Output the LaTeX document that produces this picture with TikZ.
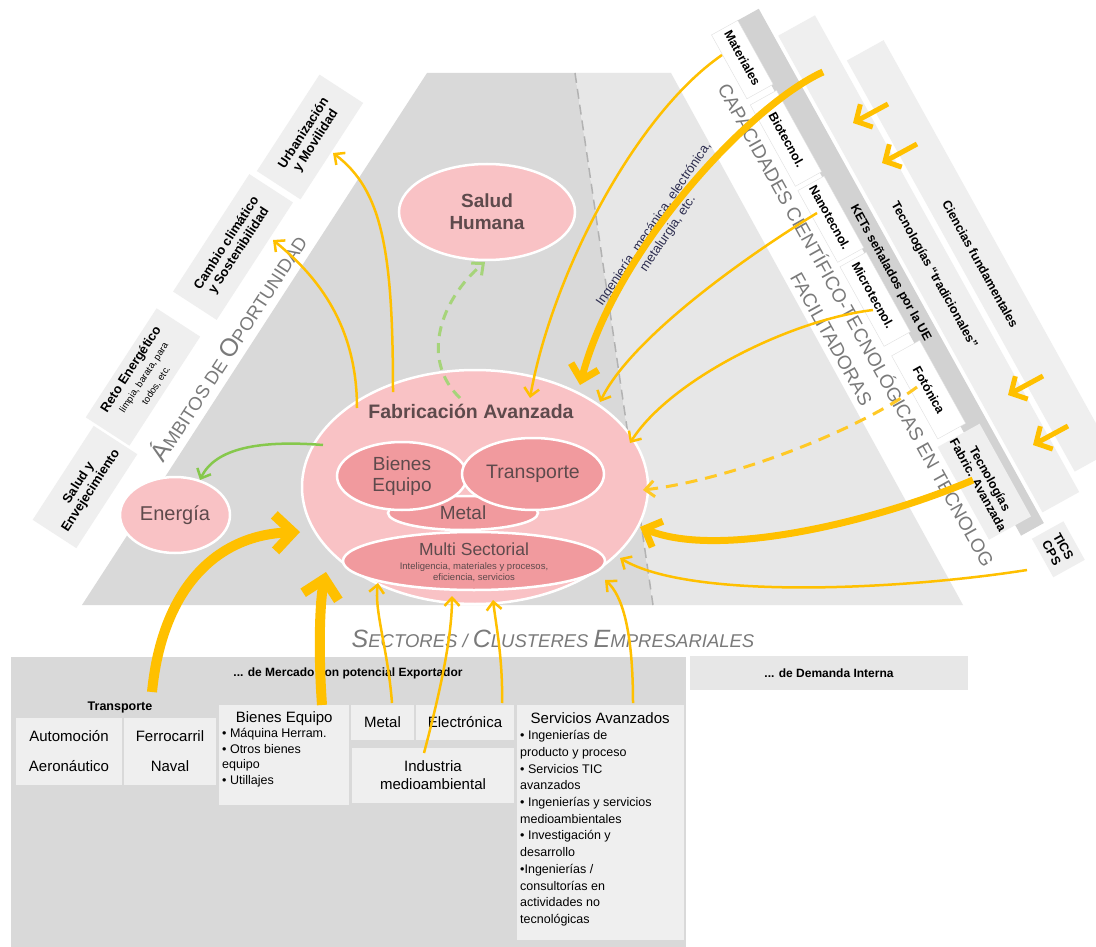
\documentclass[tikz,border=0pt]{standalone}
\usepackage{fontspec}
\setmainfont{Liberation Sans}
\usetikzlibrary{arrows.meta,shapes.geometric}
\definecolor{pinkL}{HTML}{F9C2C5}
\definecolor{pinkD}{HTML}{F19A9E}
\definecolor{txtD}{HTML}{5E4A4C}
\definecolor{yel}{HTML}{FFC000}
\definecolor{grn}{HTML}{86C84C}
\definecolor{grnL}{HTML}{A6D47A}
\definecolor{grayD}{HTML}{D9D9D9}
\definecolor{grayL}{HTML}{E7E7E7}
\definecolor{boxL}{HTML}{EFEFEF}
\definecolor{ketg}{HTML}{D2D2D2}
\definecolor{capt}{HTML}{7A7A7A}
\definecolor{ingt}{HTML}{2E2E50}
\newcommand{\fs}[2]{\fontsize{#1pt}{#2pt}\selectfont}
\newcommand{\Bg}[1]{{\fontsize{25pt}{28pt}\selectfont #1}}
\begin{document}
\begin{tikzpicture}[x=1pt,y=-1pt,
  ell/.style={ellipse, draw=white, line width=2.5pt, inner sep=0pt, text=txtD, align=center},
  lbox/.style={fill=boxL, rotate=57, align=center, font=\fs{13}{14.5}\bfseries, inner sep=2pt},
  rlab/.style={rotate=-61, align=center, font=\fs{12.5}{13.5}\bfseries, inner sep=1pt},
  sbox/.style={fill=boxL, inner sep=0pt},
  yarr/.style={draw=yel, line width=2.5pt, -{Straight Barb[length=8pt,width=15pt]}},
  ythick/.style={draw=yel, line width=7pt, -{Straight Barb[length=14pt,width=28pt]}},
  yhuge/.style={draw=yel, line width=10pt, -{Straight Barb[length=18pt,width=36pt]}},
  garr/.style={draw=grn, line width=2.5pt, -{Straight Barb[length=8pt,width=15pt]}},
  gdash/.style={draw=grnL, line width=3pt, dash pattern=on 10pt off 7pt, -{Straight Barb[length=9pt,width=16pt]}},
  ydash/.style={draw=yel!85!white, line width=3pt, dash pattern=on 12pt off 8pt, -{Straight Barb[length=9pt,width=16pt]}},
  chev/.style={draw=yel, line width=5pt, -{Straight Barb[length=12pt,width=26pt]}}
]
\useasboundingbox (0,0) rectangle (1096,947);
\fill[white] (0,0) rectangle (1096,947);

% ---------- background regions ----------
\fill[grayD] (427,73) -- (575,73) -- (653,605) -- (82,605) -- cycle;
\fill[grayL] (575,73) -- (671,73) -- (963,605) -- (653,605) -- cycle;
\draw[gray!60, line width=1.5pt, dash pattern=on 10pt off 6pt] (575,73) -- (653,605);

% ---------- right stripes ----------
\begin{scope}[shift={(680,73)}, rotate=-61]
  \fill[boxL] (70,-152) -- (540,-152) -- (540,-194) -- (70,-194) -- cycle;
  \fill[boxL] (15,-104) -- (560,-104) -- (560,-146) -- (15,-146) -- cycle;
  \fill[ketg] (-18,-74) -- (570,-74) -- (570,-100) -- (-18,-100) -- cycle;
  \filldraw[fill=white, draw=gray!25] (-18,-46) -- (55,-46) -- (55,-76) -- (-18,-76) -- cycle;
  \filldraw[fill=white, draw=gray!25] (62,-46) -- (155,-46) -- (155,-76) -- (62,-76) -- cycle;
  \filldraw[fill=white, draw=gray!25] (160,-46) -- (242,-46) -- (242,-76) -- (160,-76) -- cycle;
  \filldraw[fill=white, draw=gray!25] (247,-46) -- (338,-46) -- (338,-76) -- (247,-76) -- cycle;
  \filldraw[fill=white, draw=gray!25] (350,-48) -- (445,-48) -- (445,-80) -- (350,-80) -- cycle;
  \fill[boxL] (452,-44) -- (558,-44) -- (558,-92) -- (452,-92) -- cycle;
  \fill[boxL] (578,-82) -- (622,-82) -- (622,-118) -- (578,-118) -- cycle;
\end{scope}

\node[rlab] (lMat) at (742.5,57.8) {Materiales};
\node[rlab] (lBio) at (786.7,139.6) {Biotecnol.};
\node[rlab] (lNano) at (829.9,217.4) {Nanotecnol.};
\node[rlab] (lMicro) at (873,295.3) {Microtecnol.};
\node[rlab] (lFot) at (929,390.1) {Fotónica};
\node[rlab] (lTecFab) at (984.3,481.7) {Tecnologías\\Fabric. Avanzada};
\node[rlab] (lTics) at (1057.5,549.8) {TICS\\CPS};
\node[rlab] (lKets) at (890.4,273.1) {KETs señalados por la UE};
\node[rlab] (lTrad) at (933.9,275.3) {Tecnologías “tradicionales”};
\node[rlab] (lCien) at (980.4,264.3) {Ciencias fundamentales};
\node[rotate=-61, align=center, text=capt, font=\fs{19}{28}] (capac) at (844.9,331.4)
  {CAPACIDADES CIENTÍFICO-TECNOLÓGICAS EN TECNOLOG\\FACILITADORAS};

% chevrons
\coordinate (c1t) at (888,104); \coordinate (c1h) at (853,123);
\coordinate (c2t) at (917,144); \coordinate (c2h) at (882,163);
\coordinate (c3t) at (1043,376); \coordinate (c3h) at (1008,395);
\coordinate (c4t) at (1068,426); \coordinate (c4h) at (1033,445);
\draw[chev] (c1t) -- (c1h);
\draw[chev] (c2t) -- (c2h);
\draw[chev] (c3t) -- (c3h);
\draw[chev] (c4t) -- (c4h);

% ---------- left labels ----------
\node[lbox, minimum width=112pt, minimum height=52pt] (oSalud) at (85,487) {Salud y\\Envejecimiento};
\node[lbox, minimum width=130pt, minimum height=52pt] (oReto) at (143,377)
  {Reto Energético\\{\fs{9.5}{11}\mdseries limpia, barata, para}\\{\fs{9.5}{11}\mdseries todos, etc.}};
\node[lbox, minimum width=140pt, minimum height=52pt] (oCambio) at (233,247) {Cambio climático\\y Sostenibilidad};
\node[lbox, minimum width=115pt, minimum height=52pt] (oUrb) at (310,137) {Urbanización\\y Movilidad};
\node[rotate=57, text=capt, font=\fs{18.5}{20}] (ambitos) at (227,347) {\Bg{Á}MBITOS DE \Bg{O}PORTUNIDAD};

% ---------- ellipses ----------
\node[ell, fill=pinkL, minimum width=176pt, minimum height=96pt, font=\fs{19}{22}\bfseries] (salud) at (487,212) {Salud\\Humana};
\node[ell, fill=pinkL, minimum width=346pt, minimum height=234pt] (fab) at (475,487) {};
\node[text=txtD, font=\fs{19.5}{22}\bfseries] (fabT) at (471,411) {Fabricación Avanzada};
\node[ell, fill=pinkD, minimum width=150pt, minimum height=34pt, font=\fs{19}{22}] (metal) at (463,513) {Metal};
\node[ell, fill=pinkD, minimum width=130pt, minimum height=68pt, font=\fs{19}{21}] (bienes) at (402,476) {Bienes\\Equipo};
\node[ell, fill=pinkD, minimum width=142pt, minimum height=72pt, font=\fs{19.5}{22}] (transp) at (533,474) {Transporte};
\node[ell, fill=pinkD, minimum width=262pt, minimum height=58pt] (multi) at (474,561) {};
\node[text=txtD, font=\fs{17.5}{20}] (multiT) at (474,549) {Multi Sectorial};
\node[text=txtD, align=center, font=\fs{9.5}{11}] (multiS) at (474,572) {Inteligencia, materiales y procesos,\\eficiencia, servicios};
\node[ell, fill=pinkL, minimum width=110pt, minimum height=76pt, font=\fs{20}{22}] (energia) at (175,515) {Energía};

\node[rotate=56, align=center, text=ingt, font=\fs{13}{17}] (ingen) at (661,229) {Ingeniería, mecánica, electrónica,\\metalurgia, etc.};

% ---------- bottom section ----------
\node[text=capt, font=\fs{18.5}{20}\itshape] (sectores) at (553,639) {\Bg{S}ECTORES / \Bg{C}LUSTERES \Bg{E}MPRESARIALES};
\fill[grayD] (11,657) rectangle (686,947);
\node[fill=grayL, minimum width=278pt, minimum height=34pt, font=\fs{12}{13}\bfseries] (demanda) at (829,673) {... de Demanda Interna};
\node[font=\fs{12}{13}\bfseries] (mercado) at (348,673) {... de Mercado con potencial Exportador};
\node[font=\fs{12.5}{13}\bfseries] (transpL) at (120,707) {Transporte};

\node[sbox, minimum width=106pt, minimum height=67pt, align=center, font=\fs{15}{17}] (automo) at (69,751.5) {Automoción\\[13pt]Aeronáutico};
\node[sbox, minimum width=92pt, minimum height=67pt, align=center, font=\fs{15}{17}] (ferro) at (170,751.5) {Ferrocarril\\[13pt]Naval};
\node[sbox, minimum width=130pt, minimum height=100pt] (bienesB) at (284,755) {};
\node[anchor=north west, align=left, inner sep=0pt, font=\fs{12.5}{15.5}] (bienesT) at (222,711)
  {\makebox[124pt]{\fs{15}{17}Bienes Equipo}\\• Máquina Herram.\\• Otros bienes\\equipo\\• Utillajes};
\node[sbox, minimum width=63pt, minimum height=35pt, font=\fs{15}{17}] (metalB) at (382.5,722.5) {Metal};
\node[sbox, minimum width=98pt, minimum height=35pt, font=\fs{15}{17}] (electB) at (465,722.5) {Electrónica};
\node[sbox, minimum width=162pt, minimum height=55pt, align=center, font=\fs{15}{18}] (indB) at (433,775.5) {Industria\\medioambiental};
\node[sbox, minimum width=167pt, minimum height=235pt] (servB) at (600.5,822.5) {};
\node[anchor=north west, align=left, inner sep=0pt, font=\fs{12.5}{16.7}] (servT) at (520,712)
  {\makebox[160pt]{\fs{15}{17}Servicios Avanzados}\\• Ingenierías de\\producto y proceso\\• Servicios TIC\\avanzados\\• Ingenierías y servicios\\medioambientales\\• Investigación y\\desarrollo\\•Ingenierías /\\consultorías en\\actividades no\\tecnológicas};

% ---------- connectors ----------
% outgoing
\coordinate (o1s) at (357,408); \coordinate (o1e) at (273,240);
\draw[yarr] (o1s) .. controls (357,320) and (312,272) .. (o1e);
\coordinate (o2s) at (393,392); \coordinate (o2e) at (333,153);
\draw[yarr] (o2s) .. controls (393,250) and (382,190) .. (o2e);
\coordinate (g1s) at (323,445); \coordinate (g1e) at (200,480);
\draw[garr] (g1s) .. controls (260,440) and (215,448) .. (g1e);
\coordinate (g2s) at (460,398); \coordinate (g2e) at (485,262);
\draw[gdash] (g2s) .. controls (420,360) and (440,300) .. (g2e);
% incoming from right
\coordinate (i1s) at (722,55); \coordinate (i1e) at (530,398);
\draw[yarr] (i1s) .. controls (635,115) and (552,275) .. (i1e);
\coordinate (i2s) at (823,72); \coordinate (i2e) at (580,385);
\draw[ythick] (i2s) .. controls (750,105) and (615,250) .. (i2e);
\coordinate (i3s) at (817,213); \coordinate (i3e) at (600,402);
\draw[yarr] (i3s) .. controls (740,260) and (630,340) .. (i3e);
\coordinate (i4s) at (873,310); \coordinate (i4e) at (630,443);
\draw[yarr] (i4s) .. controls (790,320) and (670,380) .. (i4e);
\coordinate (i5s) at (917,387); \coordinate (i5e) at (643,490);
\draw[ydash] (i5s) .. controls (860,430) and (730,480) .. (i5e);
\coordinate (i6s) at (973,480); \coordinate (i6e) at (640,527);
\draw[ythick] (i6s) .. controls (880,520) and (720,560) .. (i6e);
\coordinate (i7s) at (1027,570); \coordinate (i7e) at (620,558);
\draw[yarr] (i7s) .. controls (900,590) and (690,600) .. (i7e);
% incoming from bottom
\coordinate (b1s) at (152,692); \coordinate (b1e) at (300,532);
\draw[yhuge] (b1s) .. controls (162,590) and (215,535) .. (b1e);
\coordinate (b2s) at (322,705); \coordinate (b2e) at (326,572);
\draw[yhuge] (b2s) .. controls (318,650) and (320,600) .. (b2e);
\coordinate (b3s) at (392,703); \coordinate (b3e) at (378,583);
\draw[yarr] (b3s) .. controls (388,650) and (374,610) .. (b3e);
\coordinate (b4s) at (424,753); \coordinate (b4e) at (452,596);
\draw[yarr] (b4s) .. controls (438,700) and (452,640) .. (b4e);
\coordinate (b5s) at (502,703); \coordinate (b5e) at (493,600);
\draw[yarr] (b5s) .. controls (503,660) and (496,625) .. (b5e);
\coordinate (b6s) at (633,703); \coordinate (b6e) at (605,580);
\draw[yarr] (b6s) .. controls (633,630) and (622,595) .. (b6e);
\end{tikzpicture}
\end{document}
